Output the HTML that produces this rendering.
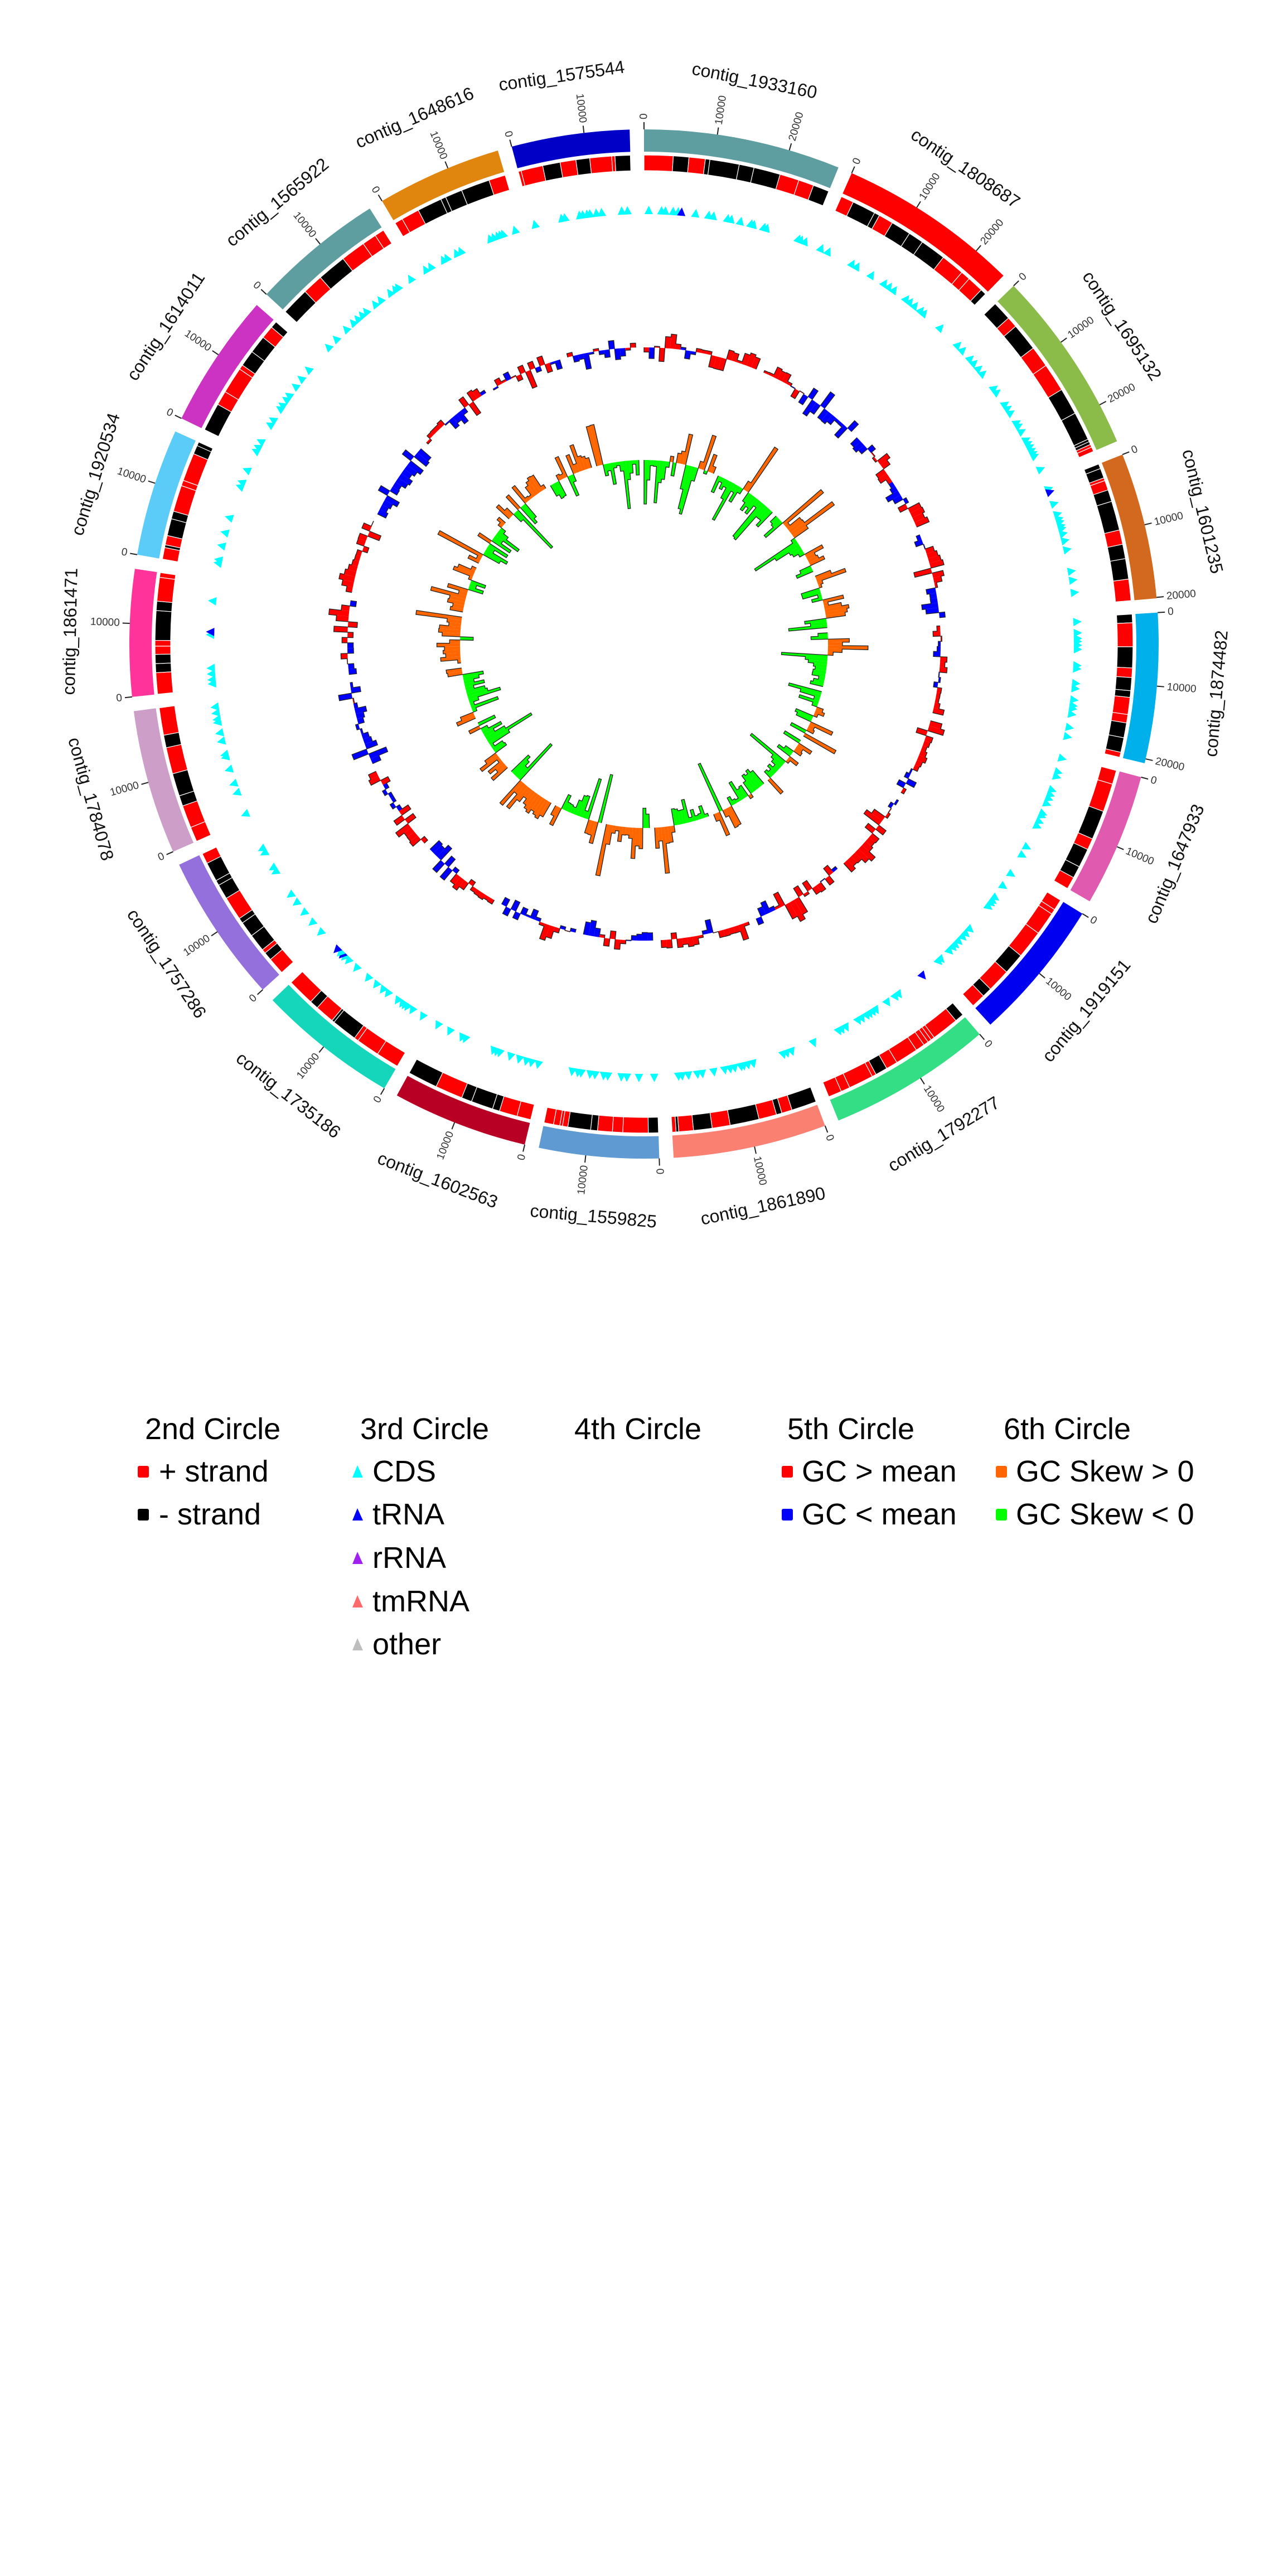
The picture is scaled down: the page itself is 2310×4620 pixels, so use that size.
<!DOCTYPE html>
<html><head><meta charset="utf-8">
<style>
html,body{margin:0;padding:0;background:#fff;}
svg{display:block;}
text{font-family:"Liberation Sans","DejaVu Sans",sans-serif;}
</style></head>
<body>
<svg id="s" xmlns="http://www.w3.org/2000/svg" width="2310" height="4620" viewBox="0 0 2310 4620">
<rect width="2310" height="4620" fill="#fff"/>
<g id="g"></g>
<g font-size="54" fill="#000" dominant-baseline="central">
<text x="260" y="2563">2nd Circle</text>
<text x="646" y="2563">3rd Circle</text>
<text x="1030" y="2563">4th Circle</text>
<text x="1412" y="2563">5th Circle</text>
<text x="1800" y="2563">6th Circle</text>
<rect x="247" y="2629" width="20" height="21" rx="3" fill="#ff0000"/><text x="285" y="2639">+ strand</text>
<rect x="247" y="2706" width="20" height="21" rx="3" fill="#000"/><text x="285" y="2716">- strand</text>
<polygon points="641,2628 632,2650 651,2650" fill="#00ffff"/><text x="668" y="2639">CDS</text>
<polygon points="641,2705 632,2727 651,2727" fill="#0000ff"/><text x="668" y="2716">tRNA</text>
<polygon points="641,2783 632,2805 651,2805" fill="#a020f0"/><text x="668" y="2794">rRNA</text>
<polygon points="641,2861 632,2883 651,2883" fill="#ff6a6a"/><text x="668" y="2872">tmRNA</text>
<polygon points="641,2938 632,2960 651,2960" fill="#bebebe"/><text x="668" y="2949">other</text>
<rect x="1402" y="2629" width="20" height="21" rx="3" fill="#ff0000"/><text x="1438" y="2639">GC &gt; mean</text>
<rect x="1402" y="2706" width="20" height="21" rx="3" fill="#0000ff"/><text x="1438" y="2716">GC &lt; mean</text>
<rect x="1786" y="2629" width="20" height="21" rx="3" fill="#ff6600"/><text x="1822" y="2639">GC Skew &gt; 0</text>
<rect x="1786" y="2706" width="20" height="21" rx="3" fill="#00ff00"/><text x="1822" y="2716">GC Skew &lt; 0</text>
</g>
</svg>
<script>
(function(){
var CX=1155,CY=1155,NS="http://www.w3.org/2000/svg";
var G=document.getElementById('g');
var seed=12345;function rnd(){seed|=0;seed=seed+0x6D2B79F5|0;var t=Math.imul(seed^seed>>>15,1|seed);t=t+Math.imul(t^t>>>7,61|t)^t;return((t^t>>>14)>>>0)/4294967296;}
function P(r,a){var t=a*Math.PI/180;return [CX+r*Math.sin(t),CY-r*Math.cos(t)];}
function f(v){return v.toFixed(2);}
function sector(r1,r2,a1,a2){var l=(a2-a1)>180?1:0;var p1=P(r2,a1),p2=P(r2,a2),p3=P(r1,a2),p4=P(r1,a1);
return "M"+f(p1[0])+","+f(p1[1])+"A"+r2+","+r2+" 0 "+l+" 1 "+f(p2[0])+","+f(p2[1])+"L"+f(p3[0])+","+f(p3[1])+"A"+r1+","+r1+" 0 "+l+" 0 "+f(p4[0])+","+f(p4[1])+"Z";}
function el(tag,attrs,txt){var e=document.createElementNS(NS,tag);for(var k in attrs)e.setAttribute(k,attrs[k]);if(txt!=null)e.textContent=txt;G.appendChild(e);return e;}
var names=["contig_1933160","contig_1808687","contig_1695132","contig_1601235","contig_1874482","contig_1647933","contig_1919151","contig_1792277","contig_1861890","contig_1559825","contig_1602563","contig_1735186","contig_1757286","contig_1784078","contig_1861471","contig_1920534","contig_1614011","contig_1565922","contig_1648616","contig_1575544"];
var cols=["#5f9ea0","#ff0000","#8bbb48","#d2691e","#00b0ea","#e05bb0","#0000f0","#33de84","#fa8072","#5f9bd2","#b80024","#15d6bb","#9370db","#cc9ec8","#ff3399","#5bcbf7","#cc33c2","#5f9ea0","#e0860f","#0000c6"];
var maxT=[3,3,3,3,3,2,2,2,2,2,2,2,2,2,2,2,2,2,2,2];
var Gp=[-0.8,23.0,45.1,67.6,85.7,104.2,120.8,138.5,158.6,177.5,192.6,209.5,227.0,245.4,263.3,279.2,295.2,312.0,328.6,344.3,359.2];
var DEG=8.2;
for(var i=0;i<20;i++){
 var s=Gp[i]+0.8,e=Gp[i+1]-0.8,m=(s+e)/2;
 el('path',{d:sector(883,923,s,e),fill:cols[i]});
 for(var k=0;s+k*DEG<e&&k<maxT[i];k++){
  var a=s+k*DEG,q1=P(923,a),q2=P(936,a);
  el('line',{x1:f(q1[0]),y1:f(q1[1]),x2:f(q2[0]),y2:f(q2[1]),stroke:"#222","stroke-width":2});
  var t=P(941,a),rot,anc;var an=((a%360)+360)%360;
  if(an<180){rot=an-90;anc="start";}else{rot=an+90;anc="end";}
  el('text',{x:f(t[0]),y:f(t[1]),"font-size":19,fill:"#333","text-anchor":anc,"dominant-baseline":"central",transform:"rotate("+f(rot)+" "+f(t[0])+" "+f(t[1])+")"},String(k*10000));
 }
 var lp=P(1030,m),mn=((m%360)+360)%360,lr=(mn<=90)?mn:(mn>=270?mn-360:mn-180);
 el('text',{x:f(lp[0]),y:f(lp[1]),"font-size":32,fill:"#111","text-anchor":"middle","dominant-baseline":"central",transform:"rotate("+f(lr)+" "+f(lp[0])+" "+f(lp[1])+")"},names[i]);
 var a0=s;
 while(a0<e-0.05){var w=0.3+rnd()*3.2;var a1=Math.min(e,a0+w);if(e-a1<0.3)a1=e;
  el('path',{d:sector(849,877,a0,a1),fill:rnd()<0.58?"#ff0000":"#000000",stroke:"#fff","stroke-width":1.2});a0=a1;}
 var ta=s+0.3+rnd()*0.5;
 while(ta<e-0.2){
  var ap=P(786,ta),h=7.5/771*180/Math.PI,b1=P(771,ta-h),b2=P(771,ta+h);
  var col=rnd()<0.03?"#0000ff":"#00ffff";
  el('polygon',{points:f(ap[0])+","+f(ap[1])+" "+f(b1[0])+","+f(b1[1])+" "+f(b2[0])+","+f(b2[1]),fill:col});
  var r=rnd();ta+= r<0.55?0.35+rnd()*0.5:(r<0.9?0.9+rnd()*1.2:2+rnd()*2.5);
 }
 var R0=532,bw=1.0,nb=Math.max(1,Math.round((e-s)/bw)),bw2=(e-s)/nb,v=0,sg=rnd()<0.5?1:-1,outline="";
 var pts0=P(R0,s);outline="M"+f(pts0[0])+","+f(pts0[1]);
 for(var j=0;j<nb;j++){
  var b0=s+j*bw2,b1a=b0+bw2;
  if(rnd()<0.25)sg=-sg;
  v=0.55*v+0.45*(sg*(5+rnd()*rnd()*60));
  var dir=(rnd()<0.8)?1:-1;var val=v*dir;var colr=(v>0)?"#ff0000":"#0000ff";
  var ra=Math.min(R0,R0+val),rb=Math.max(R0,R0+val);
  if(rb-ra<1.5){rb=ra+1.5;}
  el('path',{d:sector(ra,rb,b0,b1a),fill:colr});
  var q=P(R0+val,b0),q2=P(R0+val,b1a);
  outline+="L"+f(q[0])+","+f(q[1])+"A"+f(Math.abs(R0+val))+","+f(Math.abs(R0+val))+" 0 0 1 "+f(q2[0])+","+f(q2[1]);
 }
 var pe=P(R0,e);outline+="L"+f(pe[0])+","+f(pe[1]);
 el('path',{d:outline,fill:"none",stroke:"#222","stroke-width":1.3});
 var S0=330;v=0;sg=rnd()<0.5?1:-1;var ps=P(S0,s);outline="M"+f(ps[0])+","+f(ps[1]);
 for(var j=0;j<nb;j++){
  var b0=s+j*bw2,b1a=b0+bw2;
  if(rnd()<0.18)sg=-sg;
  var mag=rnd()<0.15?40+rnd()*55:5+rnd()*35;
  var val=sg*mag;var colr=val>0?"#ff6600":"#00ff00";
  var ra=Math.min(S0,S0+val),rb=Math.max(S0,S0+val);
  el('path',{d:sector(ra,rb,b0,b1a),fill:colr});
  var q=P(S0+val,b0),q2=P(S0+val,b1a);
  outline+="L"+f(q[0])+","+f(q[1])+"A"+f(S0+val)+","+f(S0+val)+" 0 0 1 "+f(q2[0])+","+f(q2[1]);
 }
 var pe2=P(S0,e);outline+="L"+f(pe2[0])+","+f(pe2[1]);
 el('path',{d:outline,fill:"none",stroke:"#222","stroke-width":1.3});
}
})();
</script>
</body></html>
